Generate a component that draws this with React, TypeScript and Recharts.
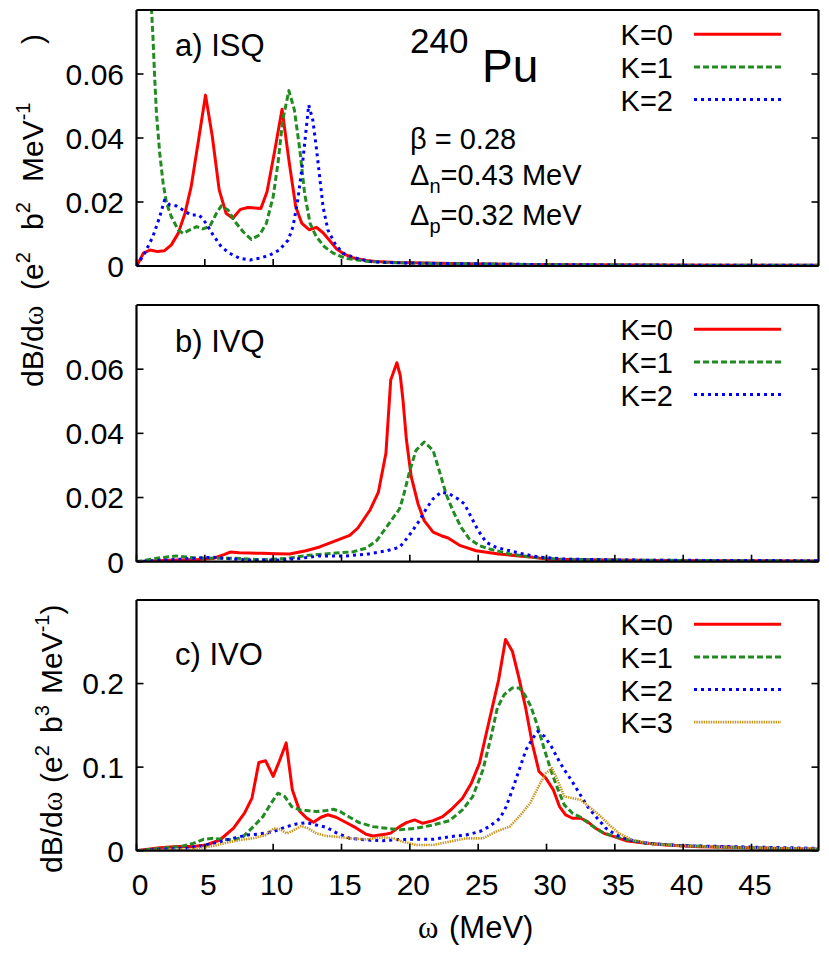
import { LineChart, Line, XAxis, YAxis, Legend } from 'recharts'

const SANS = '"Liberation Sans", Arial, Helvetica, sans-serif'
const SERIF = '"Liberation Serif", "Times New Roman", serif'

const omegaTicks = [0, 5, 10, 15, 20, 25, 30, 35, 40, 45]
const quadTicks = [0, 0.02, 0.04, 0.06]
const octTicks = [0, 0.1, 0.2]
const kNames = ['K=0', 'K=1', 'K=2', 'K=3']

// a) ISQ  [omega, dB/domega]
const isqK0 = [
  [0, 0], [0.12, 0.0008], [0.5, 0.004], [1.0, 0.005], [1.55, 0.0045], [2.05, 0.0048], [2.55, 0.0066],
  [3.05, 0.0102], [3.55, 0.0165], [4.0, 0.0248], [4.5, 0.0383], [5.05, 0.0534], [5.55, 0.0404],
  [6.05, 0.0238], [6.55, 0.0165], [7.05, 0.0149], [7.6, 0.0177], [8.15, 0.0183], [9.1, 0.018],
  [9.55, 0.0232], [10.1, 0.0357], [10.65, 0.049], [11.15, 0.0331], [11.65, 0.0185], [12.1, 0.0133],
  [12.65, 0.0113], [13.15, 0.0121], [13.65, 0.0104], [14.1, 0.0081], [14.6, 0.0055], [15.2, 0.0037],
  [15.8, 0.0026], [16.8, 0.0017], [17.5, 0.0014], [19, 0.0011], [21, 0.0009], [24, 0.0007],
  [28, 0.0005], [33, 0.0004], [38, 0.0003], [44, 0.0002], [49.9, 0.0002],
]
const isqK1 = [
  [0.3, 0.3], [0.6, 0.16], [0.9, 0.1], [1.1, 0.08], [1.2, 0.072], [1.34, 0.058], [1.46, 0.0477],
  [1.7, 0.0352], [1.95, 0.0258], [2.2, 0.0196], [2.55, 0.0154], [3.05, 0.0113], [3.4, 0.0102],
  [3.9, 0.0113], [4.4, 0.0123], [4.85, 0.0116], [5.35, 0.0123], [5.85, 0.0165], [6.2, 0.0188],
  [6.7, 0.0175], [7.2, 0.0139], [7.8, 0.0107], [8.4, 0.0083], [9.0, 0.0097], [9.5, 0.0133],
  [10.0, 0.0217], [10.35, 0.0321], [10.7, 0.0456], [11.15, 0.0548], [11.55, 0.0488], [11.95, 0.0363],
  [12.3, 0.0227], [12.7, 0.0133], [13.15, 0.0092], [13.75, 0.006], [14.4, 0.004], [15.3, 0.0024],
  [17, 0.0014], [19, 0.001], [22, 0.0008], [26, 0.0006], [31, 0.0004], [37, 0.0003], [43, 0.0002],
  [49.9, 0.0002],
]
const isqK2 = [
  [0, 0], [0.12, 0.0008], [0.6, 0.004], [1.2, 0.0092], [1.7, 0.0154], [2.05, 0.0206], [2.45, 0.019],
  [2.9, 0.0188], [3.4, 0.0175], [4.0, 0.0159], [4.6, 0.0159], [5.1, 0.0133], [5.6, 0.0097],
  [6.2, 0.006], [6.8, 0.004], [7.55, 0.0024], [8.3, 0.0019], [9.0, 0.0024], [9.75, 0.0034],
  [10.45, 0.005], [11.1, 0.0081], [11.45, 0.0123], [11.8, 0.0206], [12.15, 0.0321], [12.6, 0.0503],
  [12.9, 0.0456], [13.15, 0.0373], [13.4, 0.0279], [13.65, 0.0185], [14.0, 0.0113], [14.5, 0.0071],
  [15.1, 0.004], [16.1, 0.0024], [17.3, 0.0013], [19, 0.001], [22, 0.0008], [26, 0.0006],
  [31, 0.0004], [37, 0.0003], [43, 0.0002], [49.9, 0.0002],
]

// b) IVQ
const ivqK0 = [
  [0, 0], [1.5, 0.0003], [3, 0.0005], [4.5, 0.0007], [5.6, 0.001], [6.4, 0.0022], [6.85, 0.003],
  [7.5, 0.0028], [8.3, 0.0027], [9.2, 0.0026], [10.2, 0.0025], [11.2, 0.0024], [12.4, 0.0034],
  [13.4, 0.0046], [14.6, 0.0066], [15.6, 0.0082], [16.2, 0.0105], [17.1, 0.0162], [17.7, 0.0217],
  [18.25, 0.0338], [18.6, 0.0566], [19.05, 0.062], [19.3, 0.058], [19.5, 0.0503], [19.75, 0.038],
  [20.1, 0.0265], [20.6, 0.018], [21.05, 0.0128], [21.7, 0.0092], [22.3, 0.0081], [22.8, 0.0074],
  [23.7, 0.005], [24.85, 0.0034], [26.5, 0.0024], [29, 0.0014], [30, 0.0008], [33, 0.0006],
  [38, 0.0004], [44, 0.0003], [49.9, 0.0002],
]
const ivqK1 = [
  [0, 0], [1.5, 0.0011], [2.9, 0.0018], [4.2, 0.0012], [5.9, 0.0011], [7.2, 0.0011], [9.0, 0.0006],
  [11, 0.001], [12.4, 0.0019], [14.4, 0.0026], [15.85, 0.0031], [16.8, 0.0042], [17.6, 0.0067],
  [18.5, 0.012], [19.25, 0.0165], [19.5, 0.02], [20.0, 0.0284], [20.45, 0.0347], [21.05, 0.0373],
  [21.7, 0.0347], [22.15, 0.0284], [22.65, 0.0211], [23.15, 0.0159], [23.75, 0.0107], [24.35, 0.0071],
  [25.1, 0.005], [25.8, 0.004], [27.3, 0.0024], [29, 0.0014], [31, 0.0008], [35, 0.0005],
  [40, 0.0004], [45, 0.0003], [49.9, 0.0002],
]
const ivqK2 = [
  [0, 0], [2, 0.0005], [3.7, 0.0009], [5.6, 0.0014], [6.8, 0.0009], [8.3, 0.0005], [10.5, 0.0005],
  [11.9, 0.001], [13.4, 0.0018], [15.3, 0.0018], [16.8, 0.0023], [18.3, 0.0034], [19.25, 0.0045],
  [19.75, 0.0071], [20.2, 0.0097], [20.7, 0.0128], [21.2, 0.0165], [21.7, 0.0196], [22.3, 0.0217],
  [22.9, 0.0211], [23.5, 0.0196], [24.0, 0.018], [24.5, 0.0138], [25.0, 0.0097], [25.6, 0.006],
  [26.3, 0.0045], [27.3, 0.0034], [28.3, 0.0024], [29.5, 0.0014], [31.4, 0.0008], [36, 0.0005],
  [42, 0.0004], [49.9, 0.0003],
]

// c) IVO
const ivoK0 = [
  [0, 0], [1.7, 0.0036], [2.95, 0.005], [4.15, 0.005], [5.1, 0.0068], [6.1, 0.0128], [7.1, 0.027],
  [7.9, 0.045], [8.45, 0.063], [8.95, 0.1056], [9.45, 0.1076], [10.0, 0.089], [10.45, 0.107],
  [10.95, 0.129], [11.4, 0.073], [11.95, 0.047], [12.45, 0.039], [12.95, 0.034], [13.5, 0.04],
  [14.0, 0.043], [14.6, 0.04], [15.3, 0.034], [16.1, 0.027], [16.8, 0.0196], [17.3, 0.0176],
  [18.3, 0.02], [18.6, 0.021], [19.25, 0.0288], [19.75, 0.0336], [20.35, 0.0368], [20.95, 0.0328],
  [21.7, 0.036], [22.4, 0.0408], [23.05, 0.0496], [23.85, 0.0628], [24.5, 0.0808], [25.1, 0.1048],
  [25.6, 0.1408], [26.05, 0.1728], [26.5, 0.2048], [27.0, 0.2528], [27.5, 0.2388], [27.95, 0.2088],
  [28.45, 0.1728], [28.95, 0.1288], [29.45, 0.0948], [29.95, 0.0868], [30.5, 0.0728], [30.95, 0.0528],
  [31.4, 0.0428], [31.9, 0.0388], [32.5, 0.0388], [33.0, 0.0348], [33.6, 0.0268], [34.2, 0.0208],
  [34.95, 0.0168], [35.8, 0.012], [37.0, 0.0096], [38.7, 0.0068], [41.2, 0.0048], [43.6, 0.004],
  [46.5, 0.0028], [49.9, 0.0016],
]
const ivoK1 = [
  [0, 0], [1.7, 0.0028], [3.2, 0.0048], [4.15, 0.0088], [4.9, 0.0136], [5.6, 0.0148], [6.35, 0.0136],
  [7.1, 0.0128], [7.8, 0.0168], [8.55, 0.0288], [9.25, 0.0408], [9.85, 0.0568], [10.35, 0.0688],
  [10.85, 0.0648], [11.35, 0.0528], [11.95, 0.0488], [12.45, 0.048], [13.15, 0.0468], [13.9, 0.048],
  [14.4, 0.0496], [14.9, 0.0468], [15.6, 0.04], [16.3, 0.0336], [17.3, 0.0288], [18.3, 0.0268],
  [19.25, 0.0252], [20.45, 0.0268], [21.7, 0.0308], [22.9, 0.036], [23.85, 0.0488], [24.6, 0.0648],
  [25.35, 0.0968], [25.95, 0.1368], [26.4, 0.1708], [26.9, 0.1868], [27.5, 0.1948], [28.0, 0.1948],
  [28.4, 0.1868], [28.85, 0.1728], [29.35, 0.1488], [29.85, 0.1208], [30.35, 0.0948], [30.8, 0.0748],
  [31.3, 0.0548], [31.9, 0.0448], [32.5, 0.04], [33.25, 0.0308], [34.0, 0.0228], [34.8, 0.0176],
  [35.8, 0.0136], [37.3, 0.0088], [39.9, 0.006], [43.6, 0.004], [49.9, 0.0016],
]
const ivoK2 = [
  [0, 0], [1.7, 0.0016], [3.65, 0.0028], [5.1, 0.0068], [6.1, 0.0108], [7.1, 0.0148], [8.05, 0.0188],
  [9.0, 0.02], [10.0, 0.0228], [11.0, 0.0288], [11.7, 0.032], [12.45, 0.0336], [13.15, 0.0308],
  [13.9, 0.028], [14.6, 0.0216], [15.6, 0.0148], [16.8, 0.0128], [18.0, 0.012], [19.25, 0.0135],
  [20.45, 0.0136], [21.7, 0.0136], [22.9, 0.0168], [24.1, 0.0188], [25.1, 0.0228], [25.8, 0.0288],
  [26.6, 0.0388], [27.05, 0.0528], [27.5, 0.0728], [28.0, 0.0968], [28.5, 0.1208], [29.0, 0.1348],
  [29.35, 0.1428], [29.85, 0.1368], [30.35, 0.1248], [30.8, 0.1108], [31.3, 0.0968], [31.8, 0.0848],
  [32.4, 0.0688], [33.0, 0.0528], [33.6, 0.0408], [34.35, 0.0268], [35.1, 0.0188], [36.05, 0.0128],
  [37.5, 0.0088], [39.9, 0.006], [43.6, 0.0048], [49.9, 0.0028],
]
const ivoK3 = [
  [0, 0], [2, 0.0008], [4, 0.0016], [5.6, 0.0056], [6.6, 0.0096], [7.55, 0.0128], [8.5, 0.0148],
  [9.5, 0.0188], [10.05, 0.0268], [10.5, 0.0256], [11.0, 0.0208], [11.45, 0.024], [12.05, 0.0296],
  [12.55, 0.0268], [13.15, 0.0208], [13.9, 0.0176], [14.6, 0.0168], [15.6, 0.0148], [16.8, 0.0136],
  [18.0, 0.016], [18.8, 0.0148], [19.5, 0.0108], [20.45, 0.0068], [21.7, 0.0068], [22.9, 0.0108],
  [24.1, 0.0148], [25.35, 0.0148], [26.3, 0.0228], [27.3, 0.0288], [28.0, 0.0408], [28.8, 0.0568],
  [29.35, 0.0748], [29.95, 0.0928], [30.4, 0.0988], [30.8, 0.0848], [31.3, 0.0648], [31.9, 0.0628],
  [32.5, 0.0608], [33.1, 0.0528], [33.85, 0.0428], [34.6, 0.0308], [35.3, 0.0208], [36.3, 0.0128],
  [37.8, 0.008], [39.9, 0.0056], [43.6, 0.004], [49.9, 0.0024],
]

// gnuplot-like line types per K
const kStyles = [
  { color: '#ff0000', dash: undefined, width: 3 },
  { color: '#228b22', dash: '6 3', width: 3 },
  { color: '#0000ff', dash: '3 4', width: 3 },
  { color: '#c8961e', dash: '1.4 1', width: 2.6 },
]

const pts = (rows: number[][]) => rows.map(([x, y]) => ({ x, y }))

function YTick(props: any) {
  const { x, y, payload } = props
  return (
    <text x={x} y={y} dy="0.36em" textAnchor="end" fontSize={30} fontFamily={SANS} fill="#000">
      {String(payload.value)}
    </text>
  )
}

function XTick(props: any) {
  const { x, y, payload } = props
  return (
    <text x={x + 3.5} y={y} dy="0.71em" textAnchor="middle" fontSize={30} fontFamily={SANS} fill="#000">
      {String(payload.value)}
    </text>
  )
}

function KeyBox({ payload }: { payload?: Array<{ value: string }> }) {
  return (
    <svg width={200} height={150} style={{ overflow: 'visible' }}>
      {(payload ?? []).map((entry, i) => {
        const s = kStyles[kNames.indexOf(entry.value)] ?? kStyles[0]
        const y = 24.3 + i * 32.6
        return (
          <g key={entry.value}>
            <text x={57} y={y + 11} textAnchor="end" fontSize={29} fontFamily={SANS} fill="#000">
              {entry.value}
            </text>
            <line x1={78} x2={165} y1={y} y2={y} stroke={s.color} strokeWidth={s.width} strokeDasharray={s.dash} />
          </g>
        )
      })}
    </svg>
  )
}

interface PanelProps {
  top: number
  height: number
  plotTop: number
  plotBottom: number
  yMax: number
  yTicks: number[]
  series: number[][][]
  xLabels?: boolean
}

function Panel({ top, height, plotTop, plotBottom, yMax, yTicks, series, xLabels }: PanelProps) {
  const bottomAxis = xLabels ? 40 : 1
  const frame = { stroke: '#000', strokeWidth: 2.2 }
  const tickStroke = { stroke: '#000', strokeWidth: 1.6 }
  const blank = () => ''

  return (
    <div style={{ position: 'absolute', left: 0, top }}>
      <LineChart
        width={829}
        height={height}
        margin={{ top: plotTop - 1, right: 9.5, bottom: height - plotBottom - bottomAxis, left: 135.5 }}
      >
        <XAxis
          dataKey="x"
          type="number"
          domain={[0, 49.9]}
          allowDataOverflow
          ticks={omegaTicks}
          interval={0}
          height={bottomAxis}
          tickSize={-7}
          tickMargin={xLabels ? 29.6 : 0}
          axisLine={frame}
          tickLine={tickStroke}
          {...(xLabels ? { tick: XTick } : { tickFormatter: blank })}
        />
        <XAxis
          xAxisId="top"
          orientation="top"
          type="number"
          domain={[0, 49.9]}
          allowDataOverflow
          ticks={omegaTicks}
          interval={0}
          height={1}
          tickSize={-7}
          axisLine={frame}
          tickLine={tickStroke}
          tickFormatter={blank}
        />
        <YAxis
          type="number"
          domain={[0, yMax]}
          allowDataOverflow
          ticks={yTicks}
          interval={0}
          width={1}
          tickSize={-7}
          tickMargin={19.5}
          axisLine={frame}
          tickLine={tickStroke}
          tick={YTick}
        />
        <YAxis
          yAxisId="right"
          orientation="right"
          type="number"
          domain={[0, yMax]}
          allowDataOverflow
          ticks={yTicks}
          interval={0}
          width={1}
          tickSize={-7}
          axisLine={frame}
          tickLine={tickStroke}
          tickFormatter={blank}
        />
        {series.map((rows, i) => (
          <Line
            key={kNames[i]}
            name={kNames[i]}
            data={pts(rows)}
            dataKey="y"
            type="linear"
            stroke={kStyles[i].color}
            strokeWidth={kStyles[i].width}
            strokeDasharray={kStyles[i].dash}
            strokeLinejoin="round"
            dot={false}
            activeDot={false}
            isAnimationActive={false}
          />
        ))}
        <Legend
          layout="vertical"
          align="center"
          verticalAlign="middle"
          content={(p: any) => <KeyBox payload={p.payload} />}
          wrapperStyle={{ left: 616, top: plotTop, width: 200, height: 150 }}
        />
      </LineChart>
    </div>
  )
}

export default function App() {
  const sup = { fontSize: 20 }
  return (
    <div style={{ position: 'absolute', left: 0, top: 0, width: 829, height: 955, background: '#fff' }}>
      <Panel top={0} height={290} plotTop={10} plotBottom={266} yMax={0.08} yTicks={quadTicks}
        series={[isqK0, isqK1, isqK2]} />
      <Panel top={290} height={290} plotTop={15} plotBottom={271.7} yMax={0.08} yTicks={quadTicks}
        series={[ivqK0, ivqK1, ivqK2]} />
      <Panel top={580} height={375} plotTop={20} plotBottom={270.7} yMax={0.3} yTicks={octTicks}
        series={[ivoK0, ivoK1, ivoK2, ivoK3]} xLabels />

      <svg width={829} height={955} style={{ position: 'absolute', left: 0, top: 0, pointerEvents: 'none' }}
        fontFamily={SANS} fill="#000">
        <text x={175} y={56} fontSize={31}>a) ISQ</text>
        <text x={175} y={352} fontSize={31}>b) IVQ</text>
        <text x={175} y={665} fontSize={31}>c) IVO</text>

        <text x={410} y={53} fontSize={35}>240</text>
        <text x={482} y={82} fontSize={46}>Pu</text>
        <text x={410} y={149} fontSize={29}>β = 0.28</text>
        <text x={410} y={185} fontSize={29}>
          Δ<tspan {...sup} dy={8}>n</tspan><tspan dy={-8}>=0.43 MeV</tspan>
        </text>
        <text x={410} y={225} fontSize={29}>
          Δ<tspan {...sup} dy={8}>p</tspan><tspan dy={-8}>=0.32 MeV</tspan>
        </text>

        <text transform="translate(43,0) rotate(-90)" fontSize={30}>
          <tspan x={-387}>dB/d</tspan><tspan fontFamily={SERIF}>ω</tspan>
          <tspan x={-290}>(e</tspan><tspan {...sup} dy={-13}>2</tspan>
          <tspan x={-230} dy={13}>b</tspan><tspan {...sup} dy={-13}>2</tspan>
          <tspan x={-182} dy={13}>MeV</tspan><tspan {...sup} dy={-13}>-1</tspan>
          <tspan x={-44} dy={13}>)</tspan>
        </text>

        <text transform="translate(62,0) rotate(-90)" fontSize={30}>
          <tspan x={-873}>dB/d</tspan><tspan fontFamily={SERIF}>ω</tspan>
          <tspan x={-783}>(e</tspan><tspan {...sup} dy={-13}>2</tspan>
          <tspan x={-733} dy={13}>b</tspan><tspan {...sup} dy={-13}>3</tspan>
          <tspan x={-694} dy={13}>MeV</tspan><tspan {...sup} dy={-13}>-1</tspan>
          <tspan dy={13}>)</tspan>
        </text>

        <text y={938} fontSize={31}>
          <tspan x={418} fontFamily={SERIF}>ω</tspan>
          <tspan x={449}>(MeV)</tspan>
        </text>
      </svg>
    </div>
  )
}
